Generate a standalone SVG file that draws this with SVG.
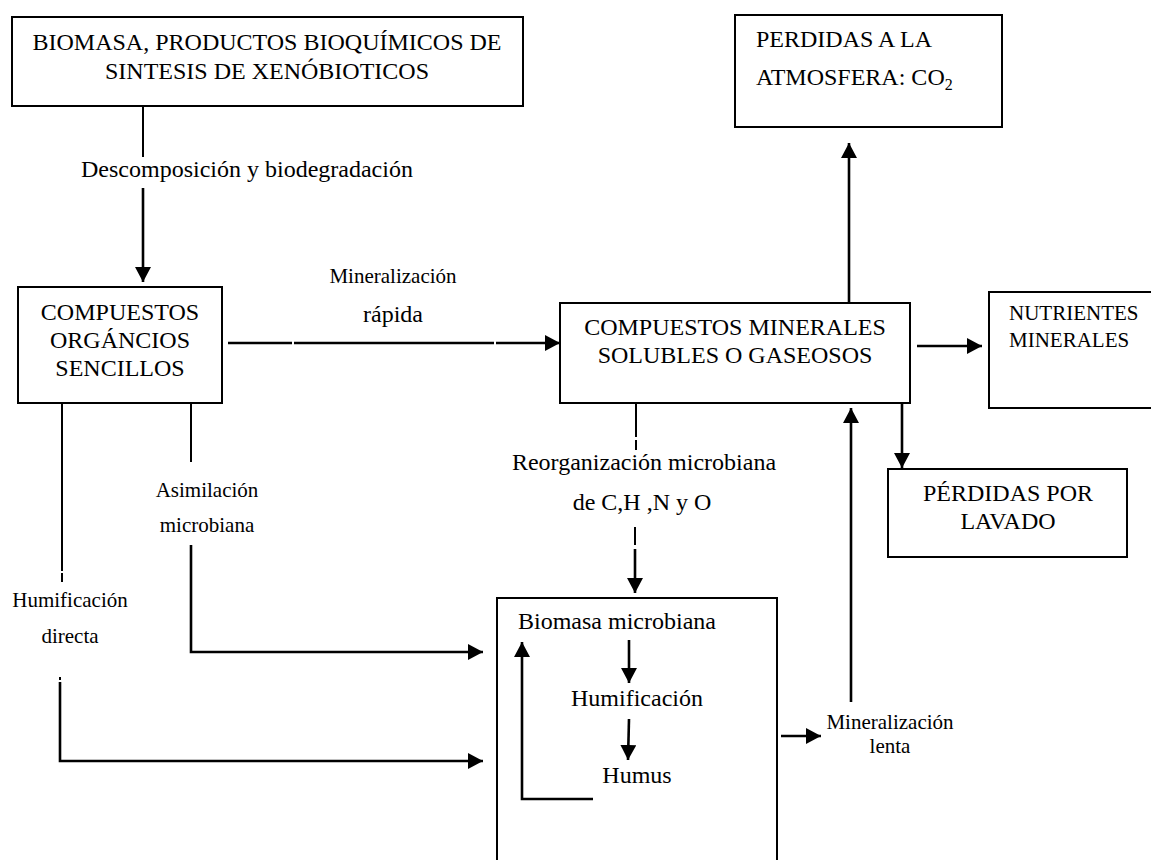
<svg xmlns="http://www.w3.org/2000/svg" width="1151" height="860" viewBox="0 0 1151 860">
<style>
  .box { fill: #fff; stroke: #000; stroke-width: 2; }
  .t24 { font-family: "Liberation Serif", "Times New Roman", serif; font-size: 24px; fill: #000; }
  .t21 { font-family: "Liberation Serif", "Times New Roman", serif; font-size: 21px; fill: #000; }
  .mid { text-anchor: middle; }
  .ln { stroke: #000; stroke-width: 2; fill: none; }
  .ar { stroke: #000; stroke-width: 2.6; fill: none; }
  .ah { stroke: #000; stroke-width: 2.6; fill: none; marker-end: url(#head); }
</style>
<defs>
  <marker id="head" viewBox="0 0 15 16" markerWidth="15" markerHeight="16" refX="15" refY="8" orient="auto" markerUnits="userSpaceOnUse">
    <path d="M0,0 L15,8 L0,16 z" fill="#000"/>
  </marker>
</defs>
<rect width="1151" height="860" fill="#fff"/>

<g id="node-biomasa-productos">
  <rect class="box" x="12" y="17" width="511" height="89"/>
  <text class="t24 mid" x="267" y="50">BIOMASA, PRODUCTOS BIOQUÍMICOS DE</text>
  <text class="t24 mid" x="267" y="79">SINTESIS DE XENÓBIOTICOS</text>
</g>

<g id="node-perdidas-atmosfera">
  <rect class="box" x="735" y="15" width="267" height="112"/>
  <text class="t24" x="756" y="47">PERDIDAS A LA</text>
  <text class="t24" x="756" y="85">ATMOSFERA: CO<tspan font-size="16" dy="5">2</tspan></text>
</g>

<g id="node-compuestos-organicos">
  <rect class="box" x="18" y="287" width="204" height="116"/>
  <text class="t24 mid" x="120" y="320">COMPUESTOS</text>
  <text class="t24 mid" x="120" y="348">ORGÁNCIOS</text>
  <text class="t24 mid" x="120" y="376">SENCILLOS</text>
</g>

<g id="node-compuestos-minerales">
  <rect class="box" x="560" y="303" width="350" height="100"/>
  <text class="t24 mid" x="735" y="335">COMPUESTOS MINERALES</text>
  <text class="t24 mid" x="735" y="363">SOLUBLES O GASEOSOS</text>
</g>

<g id="node-nutrientes">
  <rect class="box" x="989" y="292" width="200" height="116"/>
  <text class="t21" x="1009" y="320">NUTRIENTES</text>
  <text class="t21" x="1009" y="347">MINERALES</text>
</g>

<g id="node-perdidas-lavado">
  <rect class="box" x="888" y="469" width="239" height="88"/>
  <text class="t24 mid" x="1008" y="501">PÉRDIDAS POR</text>
  <text class="t24 mid" x="1008" y="529">LAVADO</text>
</g>

<g id="node-biomasa-microbiana">
  <rect class="box" x="497" y="598" width="280" height="290"/>
  <text class="t24" x="518" y="629">Biomasa microbiana</text>
  <text class="t24 mid" x="637" y="706">Humificación</text>
  <text class="t24 mid" x="637" y="783">Humus</text>
</g>

<g id="connectors">
  <!-- Descomposicion -->
  <line class="ln" x1="143" y1="106" x2="143" y2="157"/>
  <line class="ah" x1="143" y1="188" x2="143" y2="282"/>
  <!-- Mineralizacion rapida -->
  <line class="ar" x1="228" y1="343" x2="292" y2="343"/>
  <line class="ar" x1="294" y1="343" x2="494" y2="343"/>
  <line class="ah" x1="496" y1="343" x2="560" y2="343"/>
  <!-- to CO2 -->
  <line class="ah" x1="849" y1="303" x2="849" y2="143"/>
  <!-- to nutrientes -->
  <line class="ah" x1="917" y1="346" x2="982" y2="346"/>
  <!-- to lavado -->
  <line class="ah" x1="902" y1="403" x2="902" y2="468"/>
  <!-- Reorganizacion -->
  <line class="ln" x1="636" y1="403" x2="636" y2="437"/>
  <line class="ln" x1="636" y1="440" x2="636" y2="450"/>
  <line class="ln" x1="635" y1="527" x2="635" y2="545"/>
  <line class="ah" x1="635" y1="549" x2="635" y2="593"/>
  <!-- Asimilacion -->
  <line class="ln" x1="191" y1="403" x2="191" y2="462"/>
  <polyline class="ah" points="191,545 191,652 483,652"/>
  <!-- Humificacion directa -->
  <line class="ln" x1="62" y1="403" x2="62" y2="571"/>
  <line class="ln" x1="62" y1="573" x2="62" y2="582"/>
  <line class="ln" x1="60" y1="677" x2="60" y2="680"/>
  <polyline class="ah" points="60,682 60,761 483,761"/>
  <!-- inside biomasa -->
  <line class="ah" x1="629" y1="640" x2="629" y2="683"/>
  <line class="ah" x1="629" y1="719" x2="628" y2="760"/>
  <polyline class="ah" points="593,799 522,799 522,642"/>
  <!-- Mineralizacion lenta -->
  <line class="ah" x1="781" y1="736" x2="821" y2="736"/>
  <line class="ah" x1="851" y1="702" x2="851" y2="408"/>
</g>

<g id="labels">
  <text class="t24" x="81" y="177">Descomposición y biodegradación</text>
  <text class="t21 mid" x="393" y="283">Mineralización</text>
  <text class="t24 mid" x="393" y="322">rápida</text>
  <text class="t24 mid" x="644" y="470">Reorganización microbiana</text>
  <text class="t24 mid" x="642" y="510">de C,H ,N y O</text>
  <text class="t21 mid" x="207" y="497">Asimilación</text>
  <text class="t21 mid" x="207" y="532">microbiana</text>
  <text class="t21 mid" x="70" y="607">Humificación</text>
  <text class="t21 mid" x="70" y="643">directa</text>
  <text class="t21 mid" x="890" y="729">Mineralización</text>
  <text class="t21 mid" x="890" y="753">lenta</text>
</g>
</svg>
